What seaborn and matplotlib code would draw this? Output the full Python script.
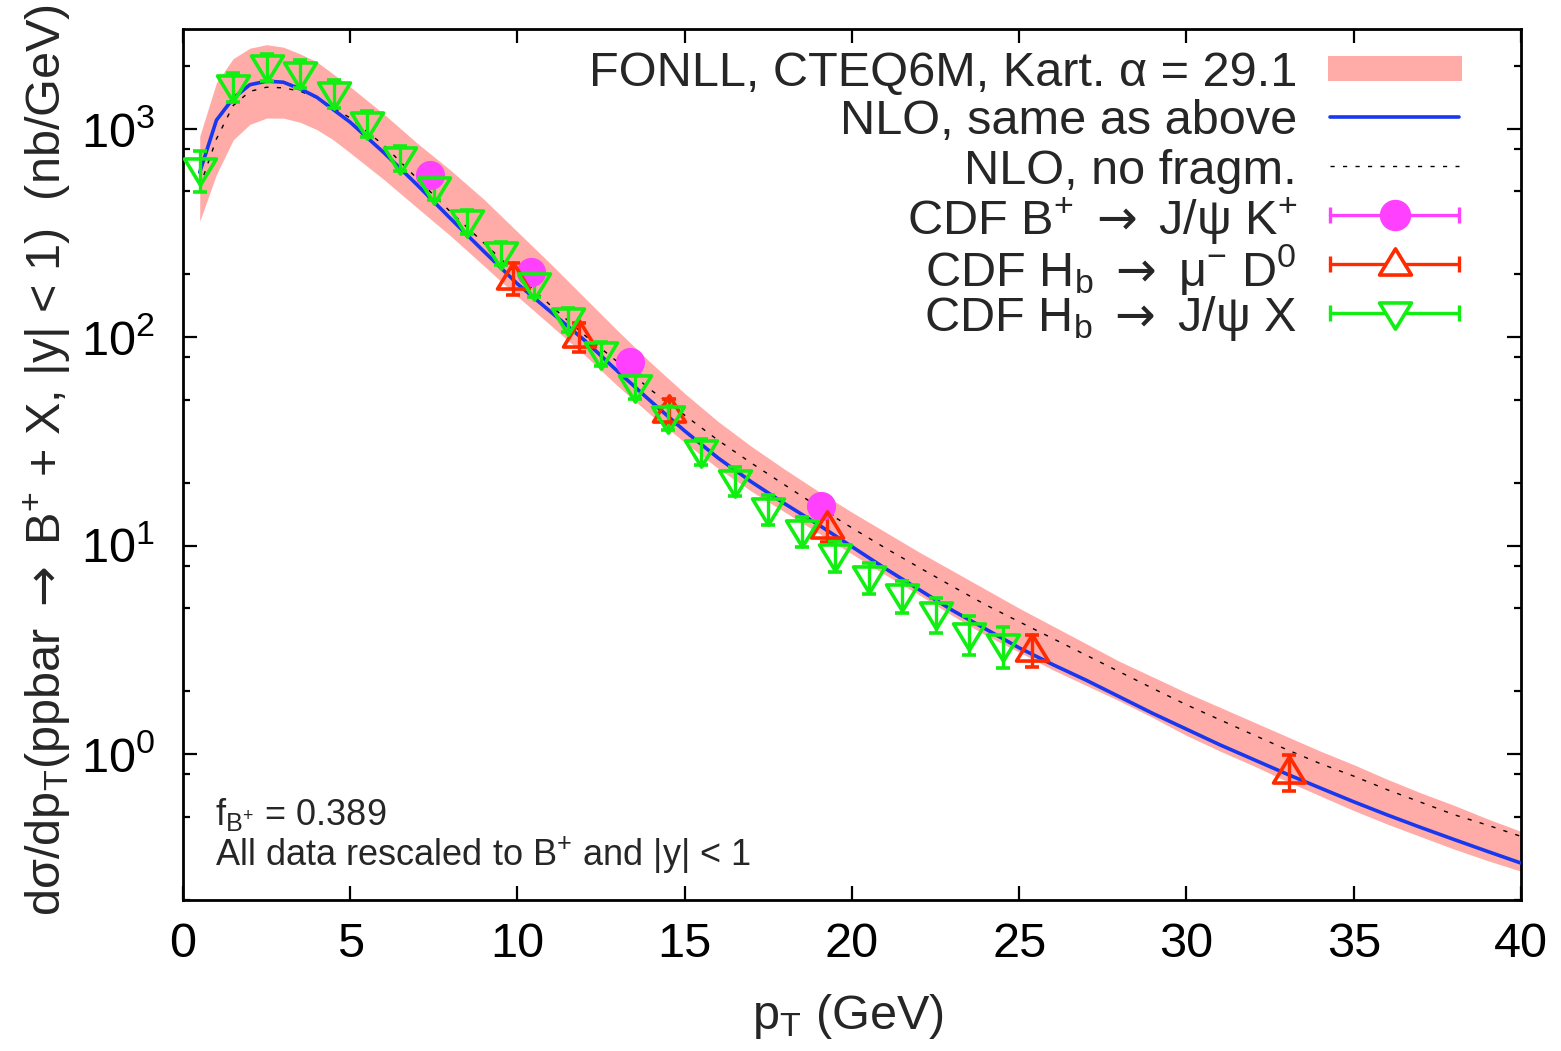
import numpy as np
import pandas as pd
import matplotlib
matplotlib.use("Agg")
import matplotlib.pyplot as plt
import matplotlib.ticker as mticker
from matplotlib.patches import Rectangle
from matplotlib.path import Path
import seaborn as sns

# ---------------------------------------------------------------- data
# theory grid (GeV)
grid_pt = [0.5, 1, 1.5, 2, 2.5, 3, 3.5, 4, 4.5, 5,
           6, 7, 8, 9, 10, 11, 12, 13, 14, 15, 16, 17, 18, 19, 20,
           21, 22, 23, 24, 25, 26, 27, 28, 29, 30, 31, 32, 33, 34, 35,
           36, 37, 38, 39, 40]

# log10 of dsigma/dpT (nb/GeV)
nlo_log10 = [2.79, 3.04, 3.145, 3.21, 3.227, 3.222, 3.19, 3.15, 3.09, 3.03,
             2.885, 2.73, 2.568, 2.41, 2.255, 2.12, 1.985, 1.835, 1.69, 1.55,
             1.42, 1.305, 1.20, 1.10, 0.995, 0.89, 0.79, 0.69, 0.60, 0.51,
             0.43, 0.355, 0.275, 0.195, 0.12, 0.045, -0.025, -0.095, -0.162,
             -0.228, -0.291, -0.351, -0.409, -0.466, -0.522]
nofrag_log10 = [2.72, 2.95, 3.11, 3.178, 3.198, 3.195, 3.179, 3.147, 3.10, 3.05,
                2.92, 2.76, 2.60, 2.45, 2.30, 2.15, 2.01, 1.88, 1.745, 1.625,
                1.505, 1.395, 1.29, 1.185, 1.085, 0.988, 0.896, 0.805, 0.716,
                0.635, 0.555, 0.475, 0.395, 0.315, 0.237, 0.165, 0.093, 0.022,
                -0.045, -0.105, -0.17, -0.23, -0.29, -0.34, -0.394]
fonll_hi_log10 = [2.963, 3.22, 3.335, 3.385, 3.402, 3.39, 3.358, 3.32, 3.26, 3.20,
                  3.07, 2.93, 2.80, 2.66, 2.505, 2.35, 2.19, 2.03, 1.875, 1.73,
                  1.595, 1.475, 1.365, 1.26, 1.16, 1.065, 0.97, 0.88, 0.79, 0.70,
                  0.615, 0.53, 0.445, 0.37, 0.295, 0.225, 0.155, 0.085, 0.015,
                  -0.05, -0.12, -0.185, -0.245, -0.31, -0.37]
fonll_lo_log10 = [2.555, 2.78, 2.945, 3.02, 3.05, 3.05, 3.03, 2.995, 2.945, 2.883,
                  2.756, 2.62, 2.485, 2.341, 2.195, 2.055, 1.915, 1.765, 1.625, 1.495,
                  1.37, 1.26, 1.16, 1.06, 0.96, 0.86, 0.765, 0.665, 0.57, 0.49,
                  0.405, 0.33, 0.255, 0.175, 0.09, 0.015, -0.055, -0.13, -0.20,
                  -0.27, -0.335, -0.395, -0.455, -0.51, -0.561]

# CDF B+ -> J/psi K+
bplus_pt = [7.38, 10.39, 13.37, 19.07]
bplus_xs = [596, 205, 75.7, 15.5]
bplus_err = [30, 10, 4, 0.8]

# CDF Hb -> mu- D0
mud_pt = [9.87, 11.83, 14.52, 19.24, 25.38, 33.07]
mud_xs = [193, 101, 44.4, 12.3, 3.16, 0.826]
mud_err = [33, 16, 6, 1.9, 0.55, 0.16]

# CDF Hb -> J/psi X
jpsi_pt = [0.5, 1.5, 2.5, 3.5, 4.5, 5.5, 6.5, 7.5, 8.5, 9.5, 10.5, 11.5, 12.5,
           13.5, 14.5, 15.5, 16.5, 17.5, 18.5, 19.5, 20.5, 21.5, 22.5, 23.5, 24.5]
jpsi_xs = [637, 1593, 1986, 1846, 1482, 1065, 724, 520, 360, 254, 179, 122, 83.8,
           58, 41.3, 28.3, 20.5, 15.0, 11.8, 8.99, 7.08, 5.78, 4.73, 3.79, 3.33]
jpsi_err = [140, 250, 300, 280, 230, 150, 100, 68, 47, 33, 23, 16, 11,
            7.5, 5.4, 4.0, 3.2, 2.4, 1.9, 1.5, 1.2, 1.0, 0.9, 0.8, 0.75]

ARROW = r"$\mathsf{\rightarrow}$"
legend_labels = [
    "FONLL, CTEQ6M, Kart. α = 29.1",
    "NLO, same as above",
    "NLO, no fragm.",
    r"CDF B$^{+}$ " + ARROW + r" J/ψ K$^{+}$",
    r"CDF H$_{\mathrm{b}}$ " + ARROW + r" μ$^{-}$ D$^{0}$",
    r"CDF H$_{\mathrm{b}}$ " + ARROW + r" J/ψ X",
]

# ---------------------------------------------------------------- style
sns.set_theme(style="ticks")
plt.rcParams["font.family"] = ["Liberation Sans", "DejaVu Sans"]
plt.rcParams["mathtext.fontset"] = "custom"
plt.rcParams["mathtext.rm"] = "Liberation Sans"
plt.rcParams["mathtext.it"] = "Liberation Sans:italic"
plt.rcParams["mathtext.bf"] = "Liberation Sans:bold"
plt.rcParams["mathtext.sf"] = "DejaVu Sans"
plt.rcParams["axes.linewidth"] = 2.0

C_BAND = "#ffaca8"
C_NLO = "#1838f0"
C_BPLUS = "#ff40ff"
C_MUD = "#ff2a00"
C_JPSI = "#11ee11"

FS = 35

# triangles a bit wider than tall, centred near the centroid
tri_down = Path([(-1, 0.66), (1, 0.66), (0, -0.98), (-1, 0.66)], closed=True)
tri_up = Path([(-1, -0.66), (1, -0.66), (0, 0.98), (-1, -0.66)], closed=True)

fig = plt.figure(figsize=(15.61, 10.51), dpi=100)
ax = fig.add_axes([0.11723, 0.14367, 0.85714, 0.82874])
ax.set_yscale("log")

theory = pd.DataFrame({
    "pt": grid_pt,
    "nlo": 10 ** np.array(nlo_log10),
    "nofrag": 10 ** np.array(nofrag_log10),
    "hi": 10 ** np.array(fonll_hi_log10),
    "lo": 10 ** np.array(fonll_lo_log10),
})

ax.fill_between(theory["pt"], theory["lo"], theory["hi"], color=C_BAND,
                linewidth=0, zorder=1)
sns.lineplot(data=theory, x="pt", y="nofrag", ax=ax, color="black", lw=1.0,
             linestyle=(0, (3, 6)), zorder=2, legend=False)
sns.lineplot(data=theory, x="pt", y="nlo", ax=ax, color=C_NLO, lw=2.6,
             zorder=3, legend=False)

ebkw = dict(linestyle="none", elinewidth=2.4, capsize=5, capthick=2.4, zorder=4)
ax.errorbar(bplus_pt, bplus_xs, yerr=bplus_err, fmt="o", ms=20, color=C_BPLUS,
            mec=C_BPLUS, ecolor=C_BPLUS, **ebkw)
ax.errorbar(mud_pt, mud_xs, yerr=mud_err, marker=tri_up, ms=23, mfc="none",
            mec=C_MUD, mew=2.6, ecolor=C_MUD, **ebkw)
ax.errorbar(jpsi_pt, jpsi_xs, yerr=jpsi_err, marker=tri_down, ms=23, mfc="none",
            mec=C_JPSI, mew=2.6, ecolor=C_JPSI, **ebkw)

# ---------------------------------------------------------------- axes
ax.set_xlim(0, 40)
ax.set_ylim(0.2, 3000)
ax.xaxis.set_major_locator(mticker.MultipleLocator(5))
ax.xaxis.set_minor_locator(mticker.NullLocator())
ax.yaxis.set_major_locator(mticker.LogLocator(base=10, numticks=20))
ax.yaxis.set_minor_locator(mticker.LogLocator(base=10, subs=(2, 5, 8), numticks=20))
ax.yaxis.set_minor_formatter(mticker.NullFormatter())
ax.tick_params(which="both", direction="in", top=True, right=True,
               width=1.6, colors="black", labelsize=FS)
ax.tick_params(which="major", length=10)
ax.tick_params(which="minor", length=5)
ax.tick_params(axis="x", pad=16)
ax.tick_params(axis="y", pad=20)
for s in ax.spines.values():
    s.set_color("black")

ax.set_xlabel(r"p$_{\mathrm{T}}$ (GeV)", fontsize=FS)
ax.xaxis.set_label_coords(0.497, -0.106)
ax.set_ylabel(r"dσ/dp$_{\mathrm{T}}$(ppbar " + ARROW +
              r" B$^{+}$ + X, |y| < 1)  (nb/GeV)", fontsize=FS)
ax.yaxis.set_label_coords(-0.082, 0.505)

ax.text(0.024, 0.0976, r"f$_{\mathrm{B}^{+}}$ = 0.389", transform=ax.transAxes,
        fontsize=26, va="center", ha="left")
ax.text(0.024, 0.0517, r"All data rescaled to B$^{+}$ and |y| < 1",
        transform=ax.transAxes, fontsize=26, va="center", ha="left")

# ---------------------------------------------------------------- key
row_y = [0.9546, 0.8990, 0.8427, 0.7865, 0.7302, 0.6740]
x_txt = 0.8326
x0, x1 = 0.857, 0.954
xm = 0.5 * (x0 + x1)
for lab, yy in zip(legend_labels, row_y):
    ax.text(x_txt, yy, lab, transform=ax.transAxes, fontsize=FS,
            ha="right", va="center_baseline")

ax.add_patch(Rectangle((0.8558, row_y[0] - 0.0144), 0.1001, 0.0288,
                       transform=ax.transAxes, color=C_BAND, lw=0,
                       clip_on=False, zorder=5))
ax.plot([x0, x1], [row_y[1]] * 2, transform=ax.transAxes, color=C_NLO,
        lw=2.6, clip_on=False)
ax.plot([x0, x1], [row_y[2]] * 2, transform=ax.transAxes, color="black",
        lw=1.0, linestyle=(0, (3, 6)), clip_on=False)
for yy, col, mk, filled in [(row_y[3], C_BPLUS, "o", True),
                            (row_y[4], C_MUD, tri_up, False),
                            (row_y[5], C_JPSI, tri_down, False)]:
    ax.plot([x0, x1], [yy, yy], transform=ax.transAxes, color=col, lw=2.4,
            clip_on=False, zorder=5)
    ax.plot([x0, x1], [yy, yy], transform=ax.transAxes, linestyle="none",
            marker="|", ms=12, mew=2.4, color=col, clip_on=False, zorder=5)
    ax.plot([xm], [yy], transform=ax.transAxes, linestyle="none", marker=mk,
            ms=20 if filled else 23, mfc=col if filled else "white",
            mec=col, mew=2.6, clip_on=False, zorder=6)

fig.savefig("out.png", dpi=100)
